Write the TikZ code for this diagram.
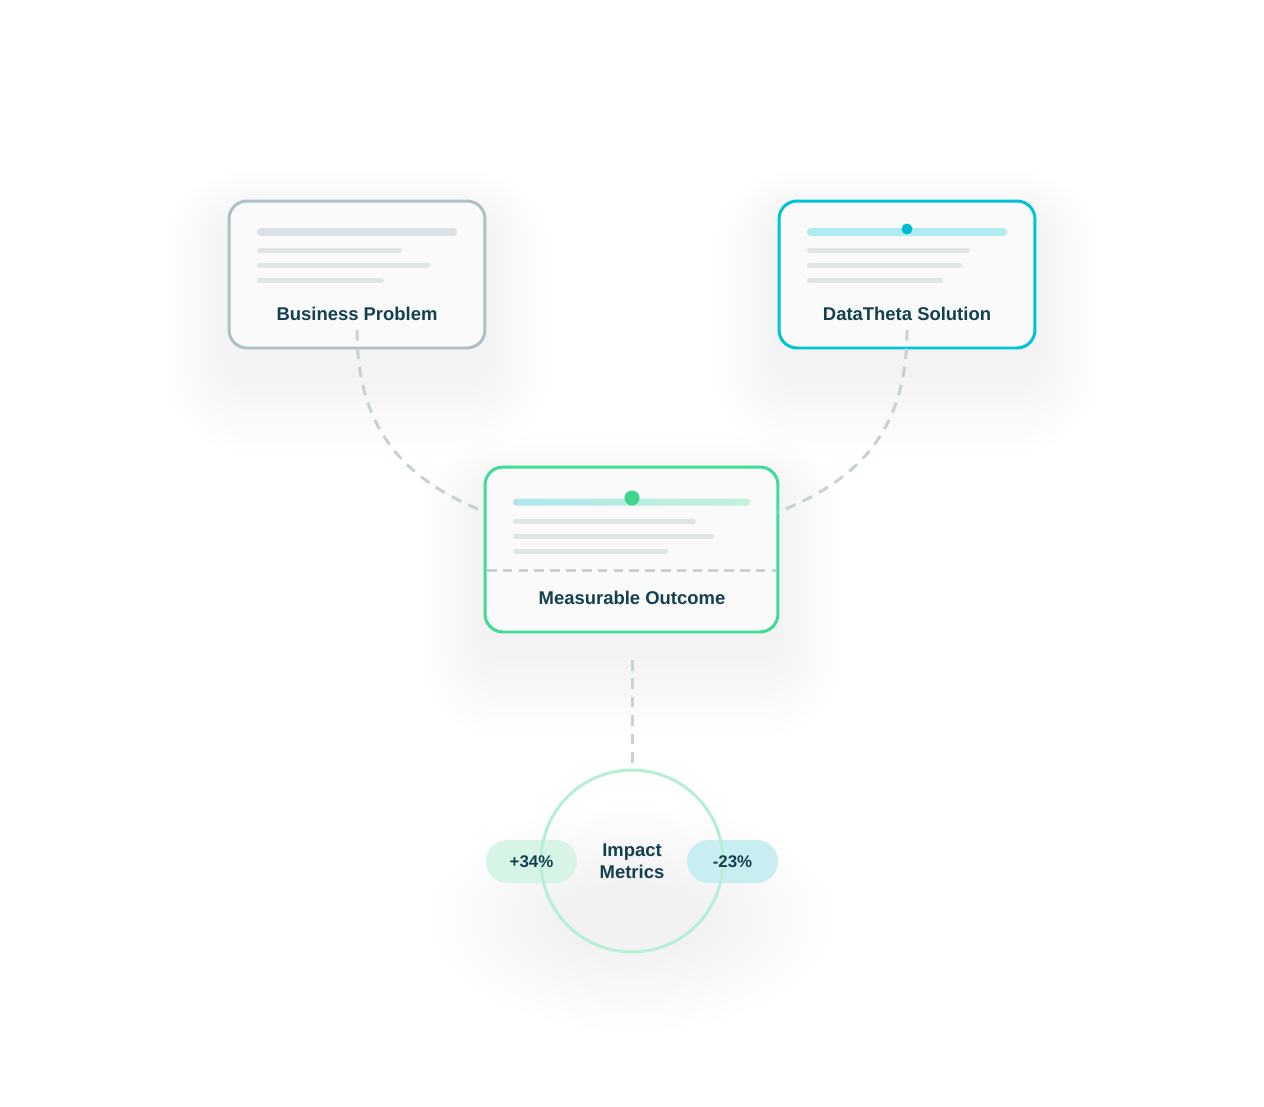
\documentclass[tikz,border=0pt]{standalone}
\usepackage{fontspec}
\setmainfont{Liberation Sans}
\definecolor{ink}{HTML}{12404F}
\definecolor{graybd}{HTML}{AEBFC5}
\definecolor{cyanbd}{HTML}{00C4D4}
\definecolor{greenbd}{HTML}{3DDC97}
\definecolor{barg}{HTML}{DCE2E4}
\definecolor{linegray}{HTML}{DFE4E6}
\definecolor{cyanbar}{HTML}{B0EBF0}
\definecolor{cyandot}{HTML}{00BCD0}
\definecolor{greendot}{HTML}{3DD68C}
\definecolor{gradL}{HTML}{B0E6EC}
\definecolor{gradR}{HTML}{C2F1DA}
\definecolor{dashc}{HTML}{C6D2D4}
\definecolor{circc}{HTML}{B5EFD6}
\definecolor{pillg}{HTML}{D6F5E7}
\definecolor{pillc}{HTML}{C9EEF2}
\definecolor{boxfill}{HTML}{FAFAFA}
\tikzset{
  card/.style={draw, line width=1.7pt, rounded corners=0.36cm, fill=boxfill,
    minimum width=5.12cm, minimum height=2.94cm, inner sep=0pt},
  title/.style={font=\bfseries\fontsize{10.5pt}{12.5pt}\selectfont, text=ink, inner sep=0pt},
  topbar/.style={line width=4pt, line cap=round, color=barg},
  tline/.style={line width=2.85pt, line cap=round, color=linegray},
  conn/.style={draw=dashc, line width=1.7pt, dash pattern=on 6pt off 4.5pt},
  pill/.style={rounded corners=0.43cm, minimum width=1.82cm, minimum height=0.86cm, inner sep=0pt},
  pilltext/.style={font=\bfseries\fontsize{9.6pt}{11pt}\selectfont, text=ink, inner sep=0pt},
}
\newcommand\cardshadow[4]{%
  \foreach \i in {1,...,12}{%
    \pgfmathsetmacro\rr{(18+5*\i)*0.5691}%
    \fill[black, opacity=0.0045, rounded corners=\rr pt]
      ({#1-5.2*\i},{#2-4.4*\i+22}) rectangle ({#3+5.2*\i},{#4+6.8*\i+22});
  }}
\begin{document}
\begin{tikzpicture}[x=0.02cm, y=-0.02cm]
\useasboundingbox[fill=white] (0,0) rectangle (1264,1106);

% soft shadows
\cardshadow{229}{201}{485}{348}
\cardshadow{779}{201}{1035}{348}
\cardshadow{485}{467}{778}{632}
\foreach \i in {1,...,13}{%
  \fill[black, opacity=0.0042] (632,918) ellipse ({70+10*\i} and {30+6.4*\i});
}

% cards
\node[card, draw=graybd] (bp) at (357,274.5) {};
\node[card, draw=cyanbd] (ds) at (907,274.5) {};
\node[card, draw=greenbd, minimum width=5.86cm, minimum height=3.3cm] (mo) at (631.5,549.5) {};

% business problem content
\draw[topbar] (260.5,232) -- (453.5,232);
\draw[tline] (259.5,250) -- (399.5,250);
\draw[tline] (259.5,265) -- (427.5,265);
\draw[tline] (259.5,280) -- (381.5,280);
\node[title] (bpt) at (357,314) {Business Problem};

% datatheta content
\draw[topbar, color=cyanbar] (810.5,232) -- (1003.5,232);
\fill[cyandot] (907,229) circle (5.5);
\draw[tline] (809.5,250) -- (967.5,250);
\draw[tline] (809.5,265) -- (959.5,265);
\draw[tline] (809.5,280) -- (940.5,280);
\node[title] (dst) at (907,314) {DataTheta Solution};

% measurable outcome content
\shade[left color=gradL, right color=gradR, rounded corners=1.9pt] (513,498.5) rectangle (750,505.5);
\fill[greendot] (632,498) circle (7.5);
\draw[tline] (515.5,521) -- (693.5,521);
\draw[tline] (515.5,536) -- (711.5,536);
\draw[tline] (515.5,551) -- (665.5,551);
\draw[conn, dash pattern=on 5.5pt off 3.5pt] (487,570) -- (776,570);
\node[title] (mot) at (632,598) {Measurable Outcome};

% connectors
\coordinate (bpa) at (357,330);
\coordinate (dsa) at (907,330);
\coordinate (moL) at (485,512);
\coordinate (moR) at (778,512);
\coordinate (moB) at (632,660);
\coordinate (imT) at (632,770);
\draw[conn] (bpa) .. controls (357,430) and (405,480) .. (moL);
\draw[conn] (dsa) .. controls (907,430) and (859,480) .. (moR);
\draw[conn] (moB) -- (imT);

% impact metrics
\node[pill, fill=pillg] (p1) at (531.5,861.5) {};
\node[pill, fill=pillc] (p2) at (732.5,861.5) {};
\node[draw=circc, line width=1.7pt, circle, minimum size=3.64cm, inner sep=0pt] (im) at (632,861) {};
\node[pilltext] (p1t) at (p1) {+34\%};
\node[pilltext] (p2t) at (p2) {-23\%};
\node[title, align=center, font=\bfseries\fontsize{10.5pt}{12.5pt}\selectfont] (imt) at (632,861) {Impact\\Metrics};
\end{tikzpicture}
\end{document}
